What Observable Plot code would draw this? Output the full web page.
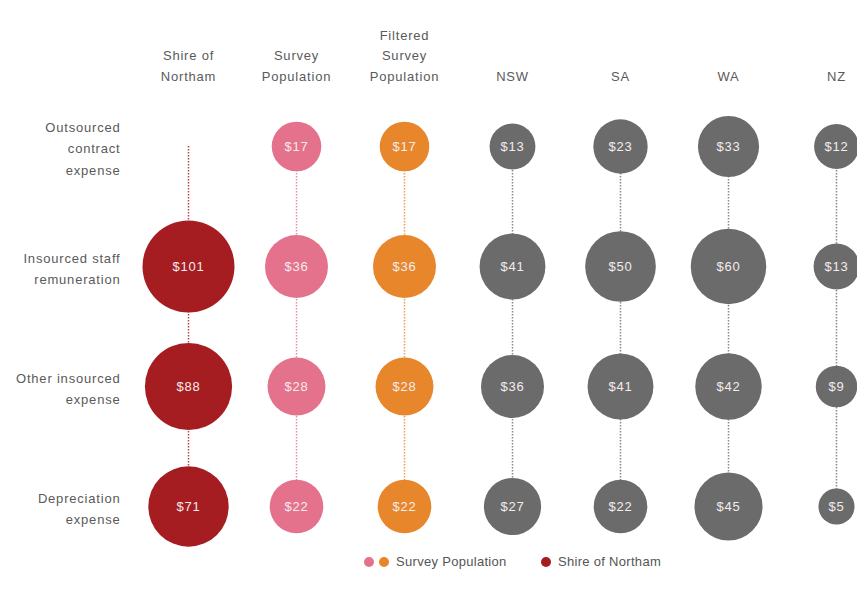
<!DOCTYPE html>
<html>
<head>
<meta charset="utf-8">
<script src="https://cdn.jsdelivr.net/npm/d3@7"></script>
<script src="https://cdn.jsdelivr.net/npm/@observablehq/plot@0.6"></script>
<style>
  body { margin: 0; background: #fff; font-family: "Liberation Sans", Arial, sans-serif; }
  #wrap { position: relative; width: 857px; height: 599px; }
  #legend { position: relative; height: 51px; font-size: 13px; color: #555; letter-spacing: 0.3px; }
  #legend .dot { position: absolute; width: 10px; height: 10px; border-radius: 50%; top: 9px; }
  #legend .lab { position: absolute; top: 6px; }
</style>
</head>
<body>
<div id="wrap">
  <div id="chart"></div>
  <div id="legend"></div>
</div>
<script>
// ---- data ----
const columns = ["Shire of Northam", "Survey Population", "Filtered Survey Population", "NSW", "SA", "WA", "NZ"];
const columnLabels = ["Shire of\nNortham", "Survey\nPopulation", "Filtered\nSurvey\nPopulation", "NSW", "SA", "WA", "NZ"];
const rows = ["Outsourced contract expense", "Insourced staff remuneration", "Other insourced expense", "Depreciation expense"];
const rowLabels = ["Outsourced\ncontract\nexpense", "Insourced staff\nremuneration", "Other insourced\nexpense", "Depreciation\nexpense"];
const shireValues = [null, 101, 88, 71];
const surveyValues = [17, 36, 28, 22];
const filteredValues = [17, 36, 28, 22];
const nswValues = [13, 41, 36, 27];
const saValues = [23, 50, 41, 22];
const waValues = [33, 60, 42, 45];
const nzValues = [12, 13, 9, 5];
const columnColors = ["#a61d21", "#e4728c", "#e8862c", "#6b6b6b", "#6b6b6b", "#6b6b6b", "#6b6b6b"];
const legendItems = [
  {label: "Survey Population", colors: ["#e4728c", "#e8862c"]},
  {label: "Shire of Northam", colors: ["#a61d21"]}
];

// ---- build table ----
const seriesValues = [shireValues, surveyValues, filteredValues, nswValues, saValues, waValues, nzValues];
const cells = [];
columns.forEach((c, i) => {
  rows.forEach((r, j) => {
    const v = seriesValues[i][j];
    if (v != null) cells.push({col: c, row: r, value: v, color: columnColors[i]});
  });
});
// vertical connector from first drawn row (Shire starts at top row) to last
const connectors = columns.map((c, i) => {
  const vals = seriesValues[i];
  const first = i === 0 ? 0 : vals.findIndex(v => v != null);
  return {col: c, y1: rows[first], y2: rows[rows.length - 1], color: columnColors[i]};
});

const font = '"Liberation Sans", Arial, sans-serif';
const chart = Plot.plot({
  width: 857,
  height: 548,
  marginLeft: 187,
  marginRight: 21,
  marginTop: 146,
  marginBottom: 42,
  style: {fontFamily: font, background: "#fff"},
  x: {type: "point", domain: columns, padding: 0, axis: null},
  y: {type: "point", domain: rows, padding: 0, axis: null},
  r: {type: "sqrt", domain: [0, 101], range: [10, 46]},
  marks: [
    Plot.ruleX(connectors, {x: "col", y1: "y1", y2: "y2", stroke: d => d.color, strokeWidth: 1.5, strokeDasharray: "1.5,1.5", strokeOpacity: 0.8}),
    Plot.dot(cells, {x: "col", y: "row", r: "value", fill: d => d.color, stroke: "none"}),
    Plot.text(cells, {x: "col", y: "row", text: d => "$" + d.value, fill: "#f4ecec", fontSize: 13, fontFamily: font}),
    Plot.text(columns, {x: d => d, text: (d, i) => columnLabels[i], frameAnchor: "top", lineAnchor: "bottom", dy: -66, fill: "#5a5a5a", fontSize: 13, lineHeight: 1.55, fontFamily: font}),
    Plot.text(rows, {y: d => d, text: (d, i) => rowLabels[i], frameAnchor: "left", textAnchor: "end", dx: -67, fill: "#5a5a5a", fontSize: 13, lineHeight: 1.65, fontFamily: font})
  ]
});
chart.querySelectorAll("text").forEach(t => t.style.letterSpacing = "0.8px");
document.getElementById("chart").appendChild(chart);

// ---- legend ----
const legend = document.getElementById("legend");
const positions = [{x: 364}, {x: 541}];
legendItems.forEach((item, k) => {
  let x = positions[k].x;
  item.colors.forEach(c => {
    const d = document.createElement("span");
    d.className = "dot";
    d.style.left = x + "px";
    d.style.background = c;
    legend.appendChild(d);
    x += 15;
  });
  const t = document.createElement("span");
  t.className = "lab";
  t.style.left = (x + 2) + "px";
  t.textContent = item.label;
  legend.appendChild(t);
});
</script>
</body>
</html>
